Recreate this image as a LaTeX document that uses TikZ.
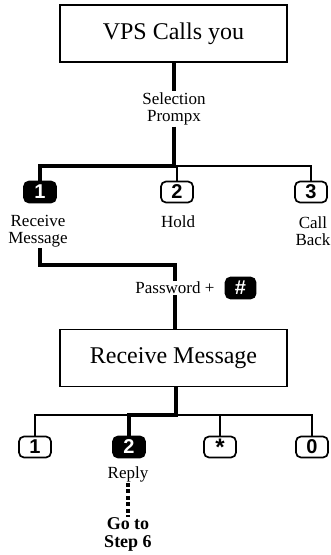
\documentclass[tikz,border=0pt]{standalone}
\usepackage{fontspec}
\setmainfont{Liberation Serif}
\newfontfamily\keyfont{Liberation Sans}
\begin{document}
\begin{tikzpicture}[x=1pt,y=-1pt,
  box/.style={draw, line width=1.3pt, minimum width=227pt, minimum height=57pt, inner sep=0pt, font=\fontsize{24}{28}\selectfont},
  lbl/.style={font=\fontsize{17}{17.5}\selectfont, align=center, inner sep=1pt},
  blbl/.style={font=\bfseries\fontsize{18}{17.5}\selectfont, align=center, inner sep=1pt},
  keyo/.style={draw, rounded corners=5pt, line width=1.7pt, minimum width=32pt, minimum height=21pt, inner sep=0pt, font=\keyfont\bfseries\fontsize{20}{20}\selectfont},
  keyf/.style={keyo, fill=black, text=white},
  thk/.style={line width=4pt},
  thn/.style={line width=1.4pt}]
\useasboundingbox (0,0) rectangle (331,555);

% top box and selection
\node[box] (b1) at (173.5,33.5) {VPS Calls you};
\node[lbl] (sel) at (174,109) {Selection\\Prompx};
\coordinate (j1) at (174,166);

\node[keyf] (k1) at (40,192) {1};
\node[keyo] (k2) at (177,192) {2};
\node[keyo] (k3) at (311,192) {3};
\node[lbl] (r1) at (38,231) {Receive\\Message};
\node[lbl] (h2) at (178,222) {Hold};
\node[lbl] (c3) at (313,231) {Call\\Back};

\draw[thk] (b1.south -| sel) -- (sel.north);
\draw[thn] (j1) -| (k2.north);
\draw[thn] (j1) -| (k3.north);
\draw[thk] (sel.south) -- (j1) -| (k1.north);

% password
\node[lbl] (pw) at (175,288) {Password +};
\node[keyf, minimum width=30pt, anchor=west] (kh) at ([xshift=9pt]pw.east) {\#};
\coordinate (c2) at (40,265);
\draw[thk] (r1.south -| k1) -- (c2) -| (pw.north);

% second box
\node[box] (b2) at (173.5,358) {Receive Message};
\draw[thk] (pw.south) -- (b2.north -| pw);
\coordinate (j2) at (176,415);

\node[keyo] (m1) at (35,447) {1};
\node[keyf] (m2) at (129,447) {2};
\node[keyo] (m3) at (220,447) {\fontsize{24}{20}\selectfont\raisebox{-3pt}{*}};
\node[keyo] (m4) at (312,447) {0};

\draw[thn] (j2) -| (m1.north);
\draw[thn] (j2) -| (m3.north);
\draw[thn] (j2) -| (m4.north);
\draw[thk] (b2.south -| j2) -- (j2) -| (m2.north);

\node[lbl] (rp) at (128,474) {Reply};
\node[blbl] (gs) at (128,534.5) {Go to\\Step 6};
\draw[line width=3.5pt, dash pattern=on 4pt off 2.5pt] (rp.south) -- (gs.north);
\end{tikzpicture}
\end{document}
